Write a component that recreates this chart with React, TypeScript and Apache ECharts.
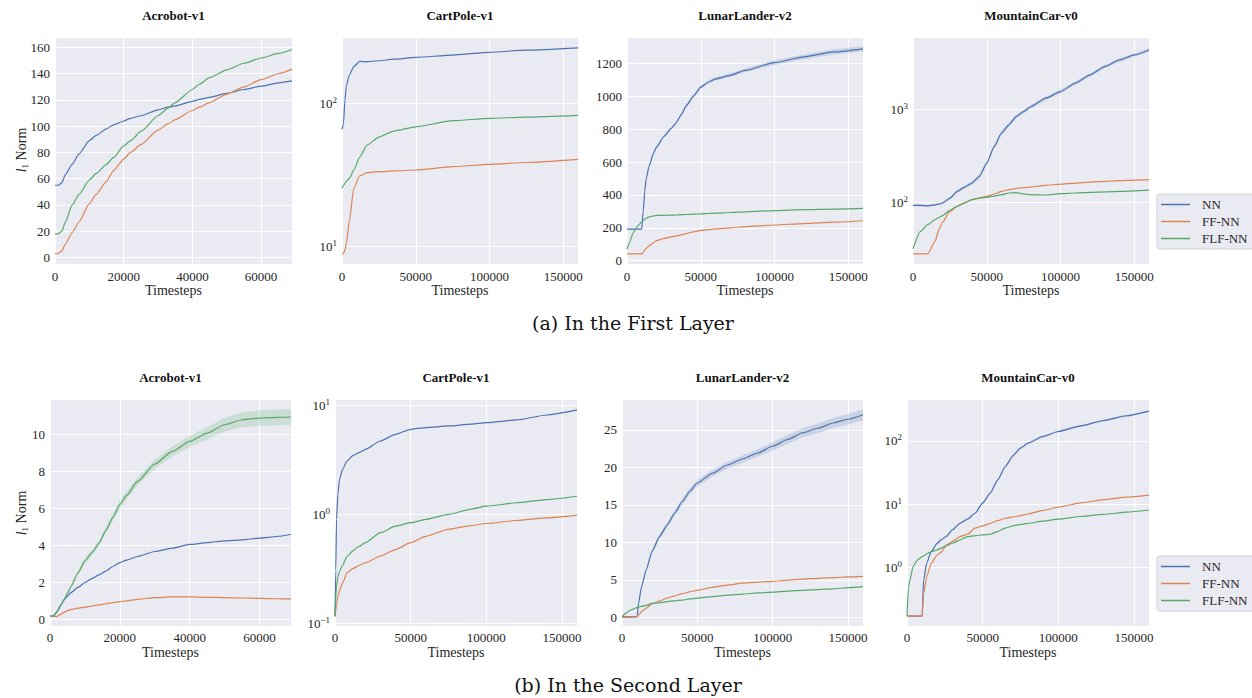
import React, { useEffect, useRef } from "react";
import * as echarts from "echarts";

// ---------- names / labels ----------
const SERIES_NAMES = ["NN", "FF-NN", "FLF-NN"];
const ENV_TITLES = ["Acrobot-v1", "CartPole-v1", "LunarLander-v2", "MountainCar-v0"];
const X_LABEL = "Timesteps";
const CAPTION_A = "(a) In the First Layer";
const CAPTION_B = "(b) In the Second Layer";

// ---------- First layer ----------
const a1X = [0, 1000, 2000, 3000, 5000, 7000, 10000, 12000, 15000, 17000, 20000, 22000, 25000, 30000, 33000, 35000, 40000, 42000, 45000, 50000, 55000, 60000, 65000, 69000];
const a1NN = [55, 55, 57, 63, 71, 79, 89, 93, 98, 101, 104, 106, 108, 112.5, 114.5, 115.5, 119, 120.5, 122, 125, 128, 130.5, 133, 134.5];
const a1FF = [3, 3, 5, 10, 19, 27, 41, 48, 58, 66, 75, 80, 86, 97, 102, 105, 112, 114.5, 118, 124.5, 130, 135.5, 140, 143.5];
const a1FLF = [18, 18, 20, 27, 40, 48, 59, 64, 71, 76, 85, 89, 96, 108, 114, 118, 128, 132, 137, 143, 148, 152, 155.5, 158.5];

const c1X = [0, 1000, 2000, 3000, 5000, 8000, 12000, 17000, 25000, 35000, 50000, 75000, 100000, 125000, 160000];
const c1NN = [65.7, 72, 105, 134, 158, 181, 197, 196, 199, 204, 210, 218, 228, 236, 245];
const c1FF = [8.7, 8.9, 9.4, 10.5, 15, 25.4, 31, 32.7, 33.2, 33.6, 34.1, 36, 37.4, 38.5, 40.5];
const c1FLF = [25.4, 26.5, 27.5, 28.5, 29.8, 34, 42, 51, 58, 64, 68.5, 75.6, 78.6, 80, 82.4];

const l1X = [0, 2000, 4000, 6000, 8000, 10000, 11000, 12000, 13000, 15000, 18000, 20000, 25000, 30000, 33000, 37000, 40000, 45000, 50000, 55000, 60000, 70000, 80000, 100000, 120000, 140000, 160000];
const l1NN = [192, 192, 192, 192, 192, 192, 300, 420, 500, 575, 655, 690, 755, 805, 835, 890, 940, 1000, 1055, 1085, 1105, 1127, 1157, 1204, 1239, 1269, 1288];
const l1NNBand = [2, 2, 2, 2, 2, 2, 5, 8, 8, 8, 8, 8, 8, 8, 8, 10, 10, 10, 10, 10, 10, 12, 12, 14, 15, 16, 16];
const l1FF = [41, 41, 41, 41, 41, 41, 50, 65, 75, 90, 110, 122, 135, 145, 150, 158, 165, 175, 184, 189, 193, 200, 207, 217, 226, 234, 243];
const l1FLF = [69, 116, 167, 198, 218, 237, 245, 252, 258, 266, 272, 275, 276, 277, 278, 280, 281, 283, 285, 287, 289, 293, 297, 305, 310, 314, 318];

const m1X = [0, 5000, 10000, 15000, 17500, 20000, 25000, 30000, 35000, 40000, 45000, 50000, 55000, 60000, 65000, 70000, 75000, 80000, 90000, 100000, 110000, 120000, 130000, 140000, 150000, 160000];
const m1NN = [92, 92, 91, 93, 95, 97.6, 110, 130, 145, 160, 189, 262, 395, 552, 679, 833, 943, 1068, 1313, 1549, 1904, 2340, 2875, 3390, 3836, 4345];
const m1NNBand = [2, 2, 2, 2, 2, 3, 4, 5, 6, 7, 9, 13, 20, 28, 34, 40, 45, 50, 60, 70, 85, 100, 120, 140, 160, 180];
const m1FF = [27.6, 27.6, 27.6, 38, 50, 60.5, 79, 89.8, 98, 106, 111, 115, 122, 130, 136, 140, 143, 145, 151, 156, 160, 164, 167, 170, 172, 174];
const m1FLF = [31.3, 48, 57, 64.6, 68, 71.3, 81.3, 89.8, 98, 106, 110, 113, 116, 120, 125, 126, 122, 120, 119, 123, 125, 127, 128.5, 130, 132, 134.5];

// ---------- Second layer ----------
const a2X = [0, 1000, 2000, 3000, 4000, 5000, 6000, 8000, 10000, 12000, 14000, 16000, 18000, 20000, 22000, 25000, 30000, 35000, 40000, 45000, 50000, 55000, 60000, 65000, 69000];
const a2NN = [0.18, 0.18, 0.4, 0.75, 1.05, 1.25, 1.44, 1.72, 1.98, 2.2, 2.4, 2.6, 2.85, 3.06, 3.2, 3.39, 3.66, 3.84, 4.04, 4.14, 4.23, 4.29, 4.38, 4.47, 4.59];
const a2FF = [0.18, 0.16, 0.15, 0.25, 0.38, 0.47, 0.52, 0.6, 0.66, 0.72, 0.78, 0.84, 0.9, 0.95, 1.0, 1.08, 1.17, 1.21, 1.21, 1.19, 1.17, 1.15, 1.13, 1.11, 1.1];
const a2FLF = [0.18, 0.18, 0.41, 0.72, 1.05, 1.4, 1.77, 2.5, 3.15, 3.6, 4.1, 4.8, 5.5, 6.2, 6.7, 7.44, 8.38, 9.06, 9.6, 10.05, 10.5, 10.77, 10.86, 10.9, 10.92];
const a2FLFBand = [0.02, 0.02, 0.05, 0.08, 0.1, 0.1, 0.1, 0.12, 0.15, 0.15, 0.15, 0.15, 0.18, 0.2, 0.2, 0.22, 0.25, 0.27, 0.3, 0.33, 0.36, 0.4, 0.42, 0.42, 0.42];

const c2X = [0, 500, 1000, 2000, 3000, 5000, 8000, 12000, 16000, 20000, 30000, 40000, 50000, 60000, 75000, 90000, 100000, 120000, 140000, 160000];
const c2NN = [0.116, 0.31, 0.9, 1.58, 2.1, 2.6, 3.1, 3.49, 3.7, 3.96, 4.73, 5.45, 6.06, 6.28, 6.5, 6.75, 6.98, 7.38, 8.2, 9.12];
const c2FF = [0.116, 0.13, 0.15, 0.177, 0.2, 0.235, 0.29, 0.32, 0.34, 0.36, 0.414, 0.476, 0.55, 0.63, 0.73, 0.79, 0.826, 0.88, 0.93, 0.986];
const c2FLF = [0.116, 0.17, 0.22, 0.27, 0.3, 0.34, 0.414, 0.466, 0.51, 0.55, 0.68, 0.78, 0.84, 0.9, 1.0, 1.12, 1.19, 1.28, 1.37, 1.47];

const l2X = [0, 3000, 6000, 10000, 11000, 13000, 16000, 20000, 25000, 30000, 35000, 40000, 45000, 50000, 60000, 70000, 80000, 90000, 100000, 110000, 120000, 130000, 140000, 150000, 160000];
const l2NN = [0.05, 0.05, 0.05, 0.05, 1.87, 4.1, 6.3, 8.8, 10.8, 12.3, 13.9, 15.4, 16.8, 17.9, 19.2, 20.3, 21.1, 21.9, 22.8, 23.7, 24.6, 25.2, 25.9, 26.4, 27.0];
const l2NNBand = [0, 0, 0, 0, 0.1, 0.2, 0.25, 0.3, 0.3, 0.35, 0.35, 0.4, 0.4, 0.45, 0.45, 0.45, 0.5, 0.5, 0.55, 0.6, 0.6, 0.65, 0.7, 0.7, 0.75];
const l2FF = [0, 0, 0, 0.08, 0.3, 0.8, 1.2, 1.8, 2.2, 2.55, 2.85, 3.15, 3.4, 3.6, 4.0, 4.3, 4.55, 4.7, 4.8, 4.95, 5.1, 5.2, 5.3, 5.38, 5.45];
const l2FLF = [0.1, 0.6, 1.0, 1.3, 1.35, 1.45, 1.6, 1.85, 1.95, 2.1, 2.2, 2.3, 2.45, 2.55, 2.75, 2.95, 3.1, 3.25, 3.35, 3.5, 3.6, 3.7, 3.8, 3.95, 4.1];

const m2X = [0, 1000, 2000, 4000, 7000, 10000, 11000, 13000, 16000, 20000, 23000, 26000, 30000, 35000, 40000, 45000, 50000, 55000, 60000, 65000, 70000, 75000, 80000, 90000, 100000, 115000, 130000, 145000, 160000];
const m2NN = [0.172, 0.172, 0.172, 0.172, 0.172, 0.172, 0.64, 1.17, 1.79, 2.42, 2.8, 3.1, 3.93, 5.0, 5.8, 7.2, 10.4, 14.9, 24.2, 39.3, 58, 76.6, 91.8, 117, 140, 172, 209, 248, 294];
const m2NNBand = [0, 0, 0, 0, 0, 0, 0.02, 0.03, 0.05, 0.06, 0.07, 0.08, 0.1, 0.13, 0.15, 0.2, 0.35, 0.6, 1.0, 1.6, 2.3, 2.8, 3.2, 4, 5, 6, 7, 8, 9];
const m2FF = [0.172, 0.172, 0.172, 0.172, 0.172, 0.172, 0.39, 0.72, 1.17, 1.58, 1.79, 2.28, 2.57, 3.09, 3.36, 4.18, 4.55, 5.0, 5.5, 6.0, 6.3, 6.6, 7.0, 8.0, 8.97, 10.5, 11.8, 12.9, 13.9];
const m2FLF = [0.172, 0.5, 0.64, 1.04, 1.32, 1.49, 1.53, 1.65, 1.78, 1.9, 2.05, 2.2, 2.42, 2.73, 3.08, 3.2, 3.28, 3.36, 3.7, 4.2, 4.55, 4.8, 5.0, 5.4, 5.8, 6.4, 6.9, 7.5, 8.1];

// ---------- style ----------
const COLORS = ["#4C72B0", "#DD8452", "#55A868"];
const BAND_COLORS = ["rgba(76,114,176,0.2)", "rgba(221,132,82,0.2)", "rgba(85,168,104,0.2)"];
const FONT = "'Liberation Serif', 'Times New Roman', serif";
const CAP_FONT = "'DejaVu Serif', serif";
const TXT = "#262626";
const BG = "#EAEAF2";

type Panel = {
  title: string;
  x: number[];
  ys: number[][];
  band?: { idx: number; h: number[] };
  log: boolean;
  yMin: number;
  yMax: number;
  ySplit?: number;
  yStep?: number;
  xMax: number;
  xStep: number;
  grid: [number, number, number, number];
  row: number;
};

const panels: Panel[] = [
  { title: ENV_TITLES[0], x: a1X, ys: [a1NN, a1FF, a1FLF], log: false, yMin: -5, yMax: 168, ySplit: 8, yStep: 20, xMax: 69000, xStep: 20000, grid: [55, 37, 237, 227], row: 0 },
  { title: ENV_TITLES[1], x: c1X, ys: [c1NN, c1FF, c1FLF], log: true, yMin: 7.48, yMax: 292, xMax: 160000, xStep: 50000, grid: [342, 37, 236, 227], row: 0 },
  { title: ENV_TITLES[2], x: l1X, ys: [l1NN, l1FF, l1FLF], band: { idx: 0, h: l1NNBand }, log: false, yMin: -20, yMax: 1360, ySplit: 7, yStep: 200, xMax: 160000, xStep: 50000, grid: [627, 37, 236, 227], row: 0 },
  { title: ENV_TITLES[3], x: m1X, ys: [m1NN, m1FF, m1FLF], band: { idx: 0, h: m1NNBand }, log: true, yMin: 21.5, yMax: 5990, xMax: 160000, xStep: 50000, grid: [913, 37, 236, 227], row: 0 },
  { title: ENV_TITLES[0], x: a2X, ys: [a2NN, a2FF, a2FLF], band: { idx: 2, h: a2FLFBand }, log: false, yMin: -0.36, yMax: 11.89, ySplit: 6, yStep: 2, xMax: 69000, xStep: 20000, grid: [50, 399, 241, 227], row: 1 },
  { title: ENV_TITLES[1], x: c2X, ys: [c2NN, c2FF, c2FLF], log: true, yMin: 0.0944, yMax: 11.5, xMax: 160000, xStep: 50000, grid: [335, 399, 242, 227], row: 1 },
  { title: ENV_TITLES[2], x: l2X, ys: [l2NN, l2FF, l2FLF], band: { idx: 0, h: l2NNBand }, log: false, yMin: -1.16, yMax: 29.1, ySplit: 6, yStep: 5, xMax: 160000, xStep: 50000, grid: [622, 399, 241, 227], row: 1 },
  { title: ENV_TITLES[3], x: m2X, ys: [m2NN, m2FF, m2FLF], band: { idx: 0, h: m2NNBand }, log: true, yMin: 0.12, yMax: 456, xMax: 160000, xStep: 50000, grid: [907, 399, 242, 227], row: 1 },
];

const multipleFmt = (step: number) => (v: number) => {
  const q = v / step;
  if (Math.abs(q - Math.round(q)) > 1e-6) return "";
  return String(Math.round(v * 1e6) / 1e6);
};

const logFmt = (v: number) => {
  const e = Math.log10(v);
  const r = Math.round(e);
  if (Math.abs(e - r) > 1e-6) return "";
  const ex = r < 0 ? "\u2212" + -r : String(r);
  return `{b|10}{e|${ex}}`;
};

function buildOption() {
  const grids: any[] = [];
  const xAxes: any[] = [];
  const yAxes: any[] = [];
  const series: any[] = [];
  const graphics: any[] = [];

  panels.forEach((p, i) => {
    const [l, t, w, h] = p.grid;
    grids.push({ left: l, top: t, width: w, height: h, show: true, backgroundColor: BG, borderWidth: 0, containLabel: false });
    const rowLabelMargin = p.row === 0 ? 6 : 5;
    xAxes.push({
      type: "value",
      gridIndex: i,
      min: 0,
      max: p.xMax,
      interval: p.xStep,
      axisLine: { show: false },
      axisTick: { show: false },
      splitLine: { show: true, lineStyle: { color: "#ffffff", width: 1 } },
      axisLabel: { formatter: multipleFmt(p.xStep), fontFamily: FONT, fontSize: 13, color: TXT, margin: rowLabelMargin },
    });
    const yAxis: any = {
      type: p.log ? "log" : "value",
      gridIndex: i,
      min: p.yMin,
      max: p.yMax,
      axisLine: { show: false },
      axisTick: { show: false },
      splitLine: { show: true, lineStyle: { color: "#ffffff", width: 1 } },
      minorSplitLine: { show: false },
      axisLabel: {
        fontFamily: FONT,
        fontSize: 13,
        color: TXT,
        margin: 5,
      },
    };
    if (p.log) {
      yAxis.logBase = 10;
      yAxis.axisLabel.formatter = logFmt;
      yAxis.axisLabel.rich = {
        b: { fontFamily: FONT, fontSize: 13, color: TXT, lineHeight: 16 },
        e: { fontFamily: FONT, fontSize: 9, color: TXT, verticalAlign: "top", lineHeight: 10 },
      };
    } else {
      yAxis.splitNumber = p.ySplit;
      yAxis.axisLabel.formatter = multipleFmt(p.yStep as number);
    }
    yAxes.push(yAxis);

    if (p.band) {
      const base = p.ys[p.band.idx];
      const hw = p.band.h;
      const xs = p.x;
      const fill = BAND_COLORS[p.band.idx];
      series.push({
        type: "custom",
        name: "_band" + i,
        xAxisIndex: i,
        yAxisIndex: i,
        silent: true,
        clip: true,
        z: 1,
        data: [[xs[0], base[0]]],
        renderItem: (_params: any, api: any) => {
          const pts: number[][] = [];
          for (let j = 0; j < xs.length; j++) pts.push(api.coord([xs[j], base[j] + hw[j]]));
          for (let j = xs.length - 1; j >= 0; j--) pts.push(api.coord([xs[j], base[j] - hw[j]]));
          return { type: "polygon", shape: { points: pts, smooth: 0 }, style: { fill, stroke: "none" } };
        },
      });
    }

    p.ys.forEach((ys, k) => {
      series.push({
        type: "line",
        name: SERIES_NAMES[k],
        xAxisIndex: i,
        yAxisIndex: i,
        symbol: "none",
        showSymbol: false,
        smooth: 0.2,
        smoothMonotone: "x",
        color: COLORS[k],
        lineStyle: { color: COLORS[k], width: 1.2 },
        data: p.x.map((xx, j) => [xx, ys[j]]),
        z: 3,
      });
    });

    const cx = l + w / 2;
    const titleY = p.row === 0 ? 15 : 377;
    const xlY = p.row === 0 ? 290 : 652;
    graphics.push({
      type: "text",
      x: cx,
      y: titleY,
      style: { text: p.title, font: `bold 13px ${FONT}`, fill: "#111", textAlign: "center", textVerticalAlign: "middle", align: "center", verticalAlign: "middle" },
    });
    graphics.push({
      type: "text",
      x: cx,
      y: xlY,
      style: { text: X_LABEL, font: `14px ${FONT}`, fill: TXT, textAlign: "center", textVerticalAlign: "middle", align: "center", verticalAlign: "middle" },
    });
  });

  // y axis labels
  [150, 513].forEach((yc) => {
    graphics.push({
      type: "text",
      x: 21,
      y: yc,
      rotation: Math.PI / 2,
      style: {
        text: "{i|l}{s|1} Norm",
        font: `14px ${FONT}`,
        fill: TXT,
        textAlign: "center",
        textVerticalAlign: "middle",
        align: "center",
        verticalAlign: "middle",
        rich: {
          i: { fontFamily: FONT, fontSize: 14, fontStyle: "italic", fill: TXT, color: TXT, lineHeight: 16 },
          s: { fontFamily: FONT, fontSize: 9, fill: TXT, color: TXT, verticalAlign: "bottom", lineHeight: 10 },
        },
      },
    });
  });

  // captions
  graphics.push({
    type: "text",
    x: 633,
    y: 323,
    style: { text: CAPTION_A, font: `19px ${CAP_FONT}`, fill: "#111", textAlign: "center", textVerticalAlign: "middle", align: "center", verticalAlign: "middle" },
  });
  graphics.push({
    type: "text",
    x: 628,
    y: 685,
    style: { text: CAPTION_B, font: `19px ${CAP_FONT}`, fill: "#111", textAlign: "center", textVerticalAlign: "middle", align: "center", verticalAlign: "middle" },
  });

  const legendBase = {
    data: SERIES_NAMES,
    orient: "vertical",
    left: 1157,
    icon: "rect",
    itemWidth: 29,
    itemHeight: 1.5,
    itemGap: 4,
    selectedMode: false,
    backgroundColor: BG,
    borderColor: "#d0d0d8",
    borderWidth: 1,
    borderRadius: 3,
    padding: [4, 30, 4, 4],
    textStyle: { fontFamily: FONT, fontSize: 13, color: TXT, padding: [0, 0, 0, 7] },
  };

  return {
    animation: false,
    backgroundColor: "#ffffff",
    grid: grids,
    xAxis: xAxes,
    yAxis: yAxes,
    series,
    legend: [
      { ...legendBase, top: 194 },
      { ...legendBase, top: 556 },
    ],
    graphic: { elements: graphics },
  };
}

export default function App() {
  const ref = useRef<HTMLDivElement>(null);
  useEffect(() => {
    if (!ref.current) return;
    const chart = echarts.init(ref.current, undefined, { renderer: "svg" });
    chart.setOption(buildOption() as any);
    return () => {
      chart.dispose();
    };
  }, []);
  return <div ref={ref} style={{ position: "absolute", left: 0, top: 0, width: 1252, height: 698 }} />;
}
